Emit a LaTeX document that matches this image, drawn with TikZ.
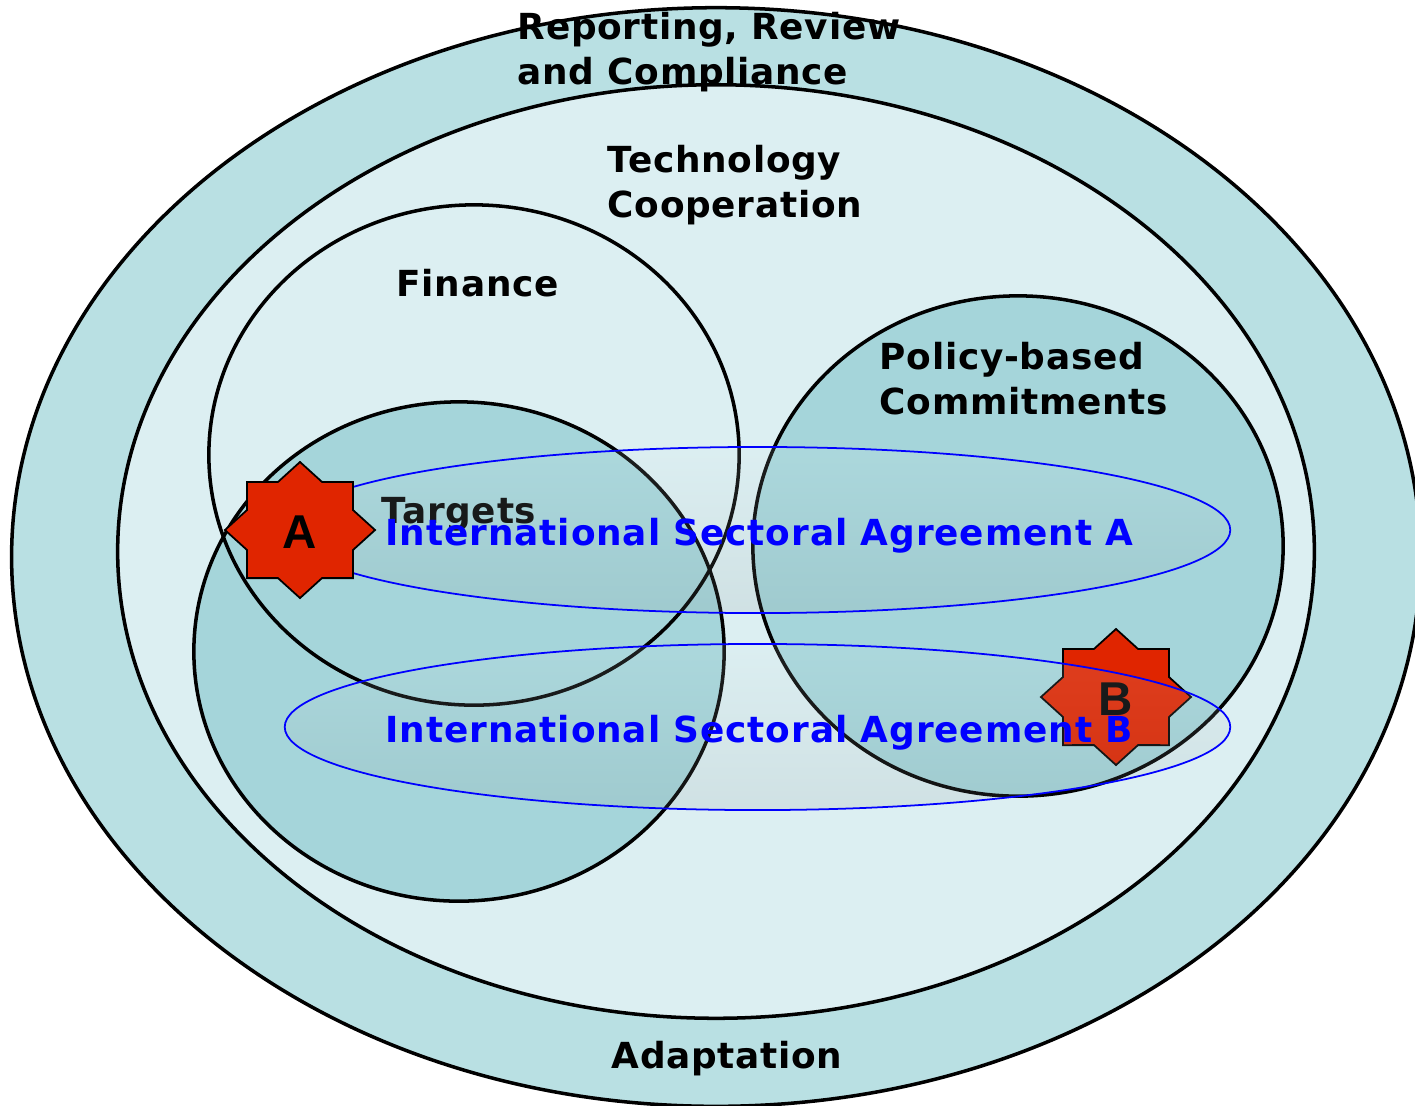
\documentclass[tikz,border=0pt]{standalone}
\usepackage{fontspec}
\setmainfont[LetterSpace=2]{DejaVu Sans}
\newfontfamily\agreementfont[LetterSpace=2.5]{DejaVu Sans}
\newfontfamily\starfont{Liberation Sans}
\usepackage{tikz}
\usetikzlibrary{shapes}
\definecolor{outerteal}{HTML}{B9E0E3}
\definecolor{innerteal}{HTML}{DCEFF2}
\definecolor{midteal}{HTML}{A5D5DA}
\definecolor{starred}{HTML}{E02500}
\definecolor{glowtop}{HTML}{DDEEF0}
\definecolor{glowbottom}{HTML}{7E8686}
\tikzstyle{area}=[ellipse, draw, line width=1pt, inner sep=0pt, outer sep=0pt]
\tikzstyle{outer area} = [area, fill=outerteal]
\tikzstyle{inner area} = [area, fill=innerteal]
\tikzstyle{mid area} = [area, fill=midteal]
\tikzstyle{open area} = [area]
\tikzstyle{agreement} = [ellipse, draw=blue, line width=0.5pt, inner sep=0pt, outer sep=0pt
,minimum width=9.45cm, minimum height=1.66cm
,top color=glowtop, bottom color=glowbottom, fill opacity=0.13
]
\tikzstyle{burst} = [star, star points=8, star point ratio=1.307, draw, line width=0.5pt
,fill=starred, xscale=1.103, minimum size=1.36cm, inner sep=0pt, outer sep=0pt
]
\tikzstyle{label} = [anchor=base west, align=left, inner sep=0pt, font=\fontsize{10.2}{12.8}\selectfont\bfseries, text=black]
\tikzstyle{agreement label} = [label, text=blue, font=\fontsize{10.2}{12.8}\selectfont\agreementfont\bfseries]
\tikzstyle{burst label} = [anchor=base, font=\fontsize{13.5}{15}\selectfont\starfont\bfseries, text=black, inner sep=0pt]

\begin{document}
\begin{tikzpicture}[x=0.01cm,y=-0.01cm]
    \useasboundingbox (0,0) rectangle (1415,1105);
    % First we draw the big areas
    \foreach \pos/\name/\across/\updown/\kind in {{(716,557)/Reporting/14.08cm/10.98cm/outer area},
        {(716,551.5)/Technology/11.96cm/9.33cm/inner area},
        {(459,651.5)/Targets/5.30cm/4.99cm/mid area},
        {(474,455)/Finance/5.30cm/5.00cm/open area},
        {(1018,546)/Policy/5.30cm/5.00cm/mid area}}
        \node[\kind, minimum width=\across, minimum height=\updown] (\name) at \pos {};

    % Then the texts of the areas
    \node[label] (ReportingText) at (517,84) {Reporting, Review\\and Compliance};
    \node[label] (TechnologyText) at (607,217) {Technology\\Cooperation};
    \node[label] (FinanceText) at (396,296) {Finance};
    \node[label] (PolicyText) at (879,414) {Policy-based\\Commitments};
    \node[label] (TargetsText) at (381,523) {Targets};
    \node[label] (AdaptationText) at (611,1068) {Adaptation};

    % Agreement A lies under its star, agreement B over its star
    \node[agreement] (AgreementA) at (757.5,530) {};
    \node[burst] (StarA) at (300,530) {};
    \node[burst label] (StarAText) at (300,548) {A};
    \node[burst] (StarB) at (1116,697) {};
    \node[burst label] (StarBText) at (1116,715) {B};
    \node[agreement] (AgreementB) at (757.5,727) {};

    \node[agreement label] (AgreementAText) at (385,545) {International Sectoral Agreement A};
    \node[agreement label] (AgreementBText) at (385,742) {International Sectoral Agreement B};
\end{tikzpicture}
\end{document}
